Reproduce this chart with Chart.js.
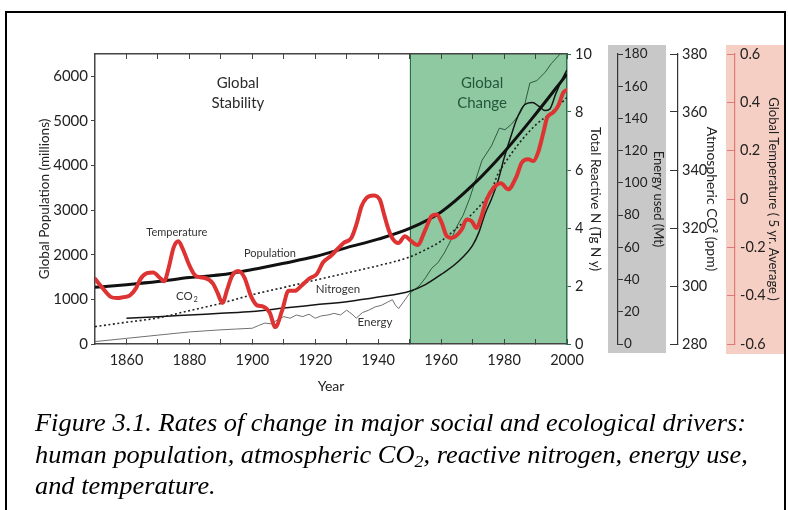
<!DOCTYPE html>
<html>
<head>
<meta charset="utf-8">
<script src="https://cdn.jsdelivr.net/npm/chart.js@4.4.1/dist/chart.umd.min.js"></script>
<style>
html,body{margin:0;padding:0;background:#fff;}
#wrap{position:relative;width:788px;height:510px;overflow:hidden;background:#fff;}
#frame{position:absolute;left:5px;top:11px;width:781px;height:560px;border:2.5px solid #000;box-sizing:border-box;}
.panel{position:absolute;}
#gray{left:608px;top:45px;width:58px;height:308px;background:#c8c8c8;}
#pink{left:726px;top:45px;width:58px;height:309px;background:#f6cfc4;}
canvas{position:absolute;left:0;top:0;}
#caption{position:absolute;left:35px;top:407px;font-family:"Liberation Serif","Times New Roman",serif;font-style:italic;font-size:25px;line-height:31.5px;white-space:nowrap;color:#000;transform:scaleX(1.055);transform-origin:0 0;}
#caption sub{font-size:0.68em;line-height:0;vertical-align:-0.22em;}
</style>
</head>
<body>
<div id="wrap">
  <div id="frame"></div>
  <div class="panel" id="gray"></div>
  <div class="panel" id="pink"></div>
  <canvas id="c" width="788" height="510"></canvas>
  <div id="caption">Figure 3.1. Rates of change in major social and ecological drivers:<br>human population, atmospheric CO<sub>2</sub>, reactive nitrogen, energy use,<br>and temperature.</div>
</div>
<script>
// ---------------- data ----------------
const popYears  = [1850,1860,1870,1880,1890,1900,1910,1920,1930,1940,1950,1960,1970,1980,1990,2000];
const popValues = [1270,1330,1400,1490,1550,1670,1810,1960,2160,2350,2590,2960,3560,4300,5150,6050];

const co2Years  = [1850,1860,1870,1880,1890,1900,1910,1920,1930,1940,1950,1955,1960,1965,1970,1974,1976,1978,1980,1985,1990,1995,2000];
const co2Values = [286,287.5,289,291.5,294,297,299.5,302,304.5,307,310,312.5,315.5,320,325,329.8,333,338.5,342,349.5,355.5,359.8,365];

const nYears  = [1860,1870,1880,1890,1900,1910,1920,1930,1940,1950,1955,1960,1965,1970,1972,1974,1976,1978,1980,1982,1984,1986.5,1989,1991,1993,1994.5,1996.5,1999,2000];
const nValues = [0.89,0.94,1.0,1.06,1.12,1.24,1.35,1.46,1.62,1.82,2.05,2.4,2.8,3.4,3.85,4.5,5.0,5.6,6.4,7.1,7.75,8.25,8.33,8.2,8.05,8.1,8.65,9.25,9.45];

const energyYears  = [1850,1860,1870,1880,1890,1895,1900,1902,1904,1906,1908,1910,1912,1914,1916,1918,1920,1922,1924,1926,1928,1930,1932,1933,1935,1937,1939,1941,1943,1944.5,1945.5,1946.5,1948,1950,1953,1955,1957,1959,1961,1963,1965,1967,1969,1971,1973,1976,1978.5,1980.3,1982.4,1985,1986.6,1988.2,1990.4,1993,1995,1997.8];
const energyValues = [1.5,3.5,5.5,7.5,8.8,9.3,9.8,11.5,13,12.5,15,17,16,18,17,18.5,16,17.5,18,19,18,21,18,16,19.5,21,23,24,26,27.5,24,22,26,31.5,36,41,47,50.5,56.5,64,73,80,90,102,114,123,134,133,136.5,143,149,162,163.5,168.5,174,180];

const tempYears  = [1850,1852.5,1855,1857,1859,1861,1863,1864.5,1866.5,1868.5,1870.5,1872,1873.5,1875,1876.5,1878,1880,1882,1885,1887.5,1889,1890.5,1892,1893.5,1895.5,1897.5,1899.5,1901.5,1903.5,1905.5,1907.3,1909.5,1911.5,1913.5,1915.5,1918,1920.5,1922.5,1925,1927,1929,1931.5,1933.2,1934.7,1936.3,1938.4,1940.5,1942,1943.3,1944.8,1946.4,1948.5,1950.3,1952.5,1955,1957,1958.6,1960.2,1961.8,1963.3,1966.5,1968.1,1969.7,1971.3,1972.5,1974.5,1976.6,1979,1981.3,1984,1985.6,1987.7,1989.3,1990.8,1992.5,1993.7,1995.6,1997.2,1998.8,2000];
const tempValues = [-0.33,-0.37,-0.405,-0.41,-0.406,-0.40,-0.37,-0.33,-0.307,-0.304,-0.325,-0.34,-0.28,-0.2,-0.175,-0.21,-0.275,-0.318,-0.327,-0.35,-0.39,-0.43,-0.375,-0.32,-0.298,-0.325,-0.40,-0.44,-0.445,-0.47,-0.53,-0.46,-0.38,-0.38,-0.36,-0.33,-0.31,-0.262,-0.235,-0.208,-0.182,-0.16,-0.10,-0.03,0.005,0.015,-0.002,-0.07,-0.127,-0.168,-0.182,-0.154,-0.172,-0.19,-0.127,-0.07,-0.064,-0.099,-0.154,-0.161,-0.127,-0.085,-0.092,-0.12,-0.085,-0.002,0.045,0.065,0.04,0.095,0.15,0.164,0.157,0.192,0.275,0.337,0.358,0.385,0.44,0.452];

// tick values
const yearTicks   = [1860,1870,1880,1890,1900,1910,1920,1930,1940,1950,1960,1970,1980,1990,2000];
const popTicks    = [0,1000,2000,3000,4000,5000,6000];
const nTicks      = [0,2,4,6,8,10];
const energyTicks = [0,20,40,60,80,100,120,140,160,180];
const co2Ticks    = [280,300,320,340,360,380];
const tempTicks   = [-0.6,-0.4,-0.2,0,0.2,0.4,0.6];

// periods
const stabilityPeriod = [1850,1950];
const changePeriod    = [1950,2000];

// in-plot labels, placed in (year, population) coordinates
const notes = [
  {text:'Global',      year:1895.4, value:5850, size:15, color:'#2b2b2b'},
  {text:'Stability',   year:1895.4, value:5400, size:15, color:'#2b2b2b'},
  {text:'Global',      year:1973,   value:5850, size:15, color:'#24563a'},
  {text:'Change',      year:1973,   value:5400, size:15, color:'#24563a'},
  {text:'Temperature', year:1876,   value:2490, size:11, color:'#333'},
  {text:'Population',  year:1905.6, value:2020, size:11, color:'#333'},
  {text:'Nitrogen',    year:1927.2, value:1235, size:11.5, color:'#333'},
  {text:'Energy',      year:1939,   value:495,  size:11.5, color:'#333'}
];
const co2Note = {year:1879, value:1076, size:11.5, color:'#333'};

// ---------------- helpers ----------------
const FONT = 'Lato';
const pts = (xs, ys) => xs.map((x, i) => ({x: x, y: ys[i]}));
const fixTicks = vals => scale => { scale.ticks = vals.map(v => ({value: v})); };
const fixWidth = w => scale => { scale.width = w; };
const plain = v => String(v);
const tickFont = {family: FONT, size: 14.5};
const titleFont = {family: FONT, size: 13.5};

const regionPlugin = {
  id: 'regions',
  beforeDraw(chart) {
    const {ctx, chartArea, scales} = chart;
    const x0 = scales.x.getPixelForValue(changePeriod[0]);
    const x1 = scales.x.getPixelForValue(changePeriod[1]);
    ctx.save();
    ctx.fillStyle = '#8fc9a1';
    ctx.fillRect(x0, chartArea.top, x1 - x0, chartArea.bottom - chartArea.top);
    ctx.strokeStyle = '#2e6b47';
    ctx.lineWidth = 1;
    ctx.beginPath();
    ctx.moveTo(Math.round(x0) + 0.5, chartArea.top);
    ctx.lineTo(Math.round(x0) + 0.5, chartArea.bottom);
    ctx.stroke();
    ctx.restore();
  }
};

const notePlugin = {
  id: 'notes',
  afterDatasetsDraw(chart) {
    const {ctx, scales} = chart;
    ctx.save();
    ctx.textAlign = 'center';
    ctx.textBaseline = 'middle';
    notes.forEach(n => {
      ctx.font = n.size + 'px ' + FONT;
      ctx.fillStyle = n.color;
      ctx.fillText(n.text, scales.x.getPixelForValue(n.year), scales.y.getPixelForValue(n.value));
    });
    const cx = scales.x.getPixelForValue(co2Note.year);
    const cy = scales.y.getPixelForValue(co2Note.value);
    ctx.font = co2Note.size + 'px ' + FONT;
    ctx.fillStyle = co2Note.color;
    const w = ctx.measureText('CO').width;
    ctx.textAlign = 'left';
    ctx.fillText('CO', cx - w / 2 - 2, cy);
    ctx.font = (co2Note.size * 0.65) + 'px ' + FONT;
    ctx.fillText('2', cx + w / 2 - 1, cy + 4);
    ctx.restore();
  }
};

new Chart(document.getElementById('c'), {
  type: 'line',
  data: {
    datasets: [
      {label: 'Temperature', data: pts(tempYears, tempValues), yAxisID: 'yT', borderColor: '#dd3333', borderWidth: 4, cubicInterpolationMode: 'monotone', pointRadius: 0, borderCapStyle: 'round', borderJoinStyle: 'round'},
      {label: 'Population', data: pts(popYears, popValues), yAxisID: 'y', borderColor: '#111', borderWidth: 3, cubicInterpolationMode: 'monotone', pointRadius: 0},
      {label: 'CO2', data: pts(co2Years, co2Values), yAxisID: 'yC', borderColor: '#222', borderWidth: 1.6, borderDash: [2, 2.5], cubicInterpolationMode: 'monotone', pointRadius: 0},
      {label: 'Nitrogen', data: pts(nYears, nValues), yAxisID: 'yN', borderColor: '#151515', borderWidth: 1.5, cubicInterpolationMode: 'monotone', pointRadius: 0},
      {label: 'Energy', data: pts(energyYears, energyValues), yAxisID: 'yE', borderColor: '#707070', borderWidth: 1, tension: 0, pointRadius: 0,
        segment: {borderColor: c => c.p0.parsed.x >= stabilityPeriod[1] ? '#2f5b3e' : '#707070'}}
    ]
  },
  options: {
    responsive: false,
    animation: false,
    devicePixelRatio: 1,
    layout: {padding: {left: 36, right: 0, top: 54, bottom: 106}},
    plugins: {legend: {display: false}, tooltip: {enabled: false}},
    scales: {
      x: {
        type: 'linear', position: 'bottom', min: 1850, max: 2000,
        afterBuildTicks: fixTicks(yearTicks), afterFit: s => { s.height = 60; },
        grid: {drawOnChartArea: false, tickLength: -5, color: '#444', lineWidth: 1},
        border: {color: '#444', width: 1.5},
        ticks: {padding: 13, maxRotation: 0, autoSkip: false, color: '#222', font: tickFont,
                callback: v => (v % 20 === 0 ? String(v) : '')},
        title: {display: true, text: 'Year', color: '#222', font: {family: FONT, size: 14}, padding: {top: 0, bottom: 9.6}}
      },
      x2: {
        type: 'linear', position: 'top', min: 1850, max: 2000,
        afterBuildTicks: fixTicks(yearTicks), afterFit: s => { s.height = 0; },
        grid: {drawOnChartArea: false, tickLength: -5, color: '#444', lineWidth: 1},
        border: {color: '#444', width: 1.5},
        ticks: {display: false}
      },
      y: {
        position: 'left', min: 0, max: 6500,
        afterBuildTicks: fixTicks(popTicks), afterFit: fixWidth(59),
        grid: {drawOnChartArea: false, tickLength: 4, color: '#444'},
        border: {color: '#444', width: 1.5},
        ticks: {padding: 3, color: '#222', font: {family: FONT, size: 15}, callback: plain},
        title: {display: true, text: 'Global Population (millions)', color: '#222', font: titleFont, padding: {top: 1, bottom: 0}}
      },
      yN: {
        position: 'right', weight: 1, min: 0, max: 10,
        afterBuildTicks: fixTicks(nTicks), afterFit: fixWidth(51),
        grid: {drawOnChartArea: false, tickLength: 4, color: '#2e6b47'},
        border: {color: '#2e6b47', width: 1.5},
        ticks: {padding: 4, color: '#222', font: tickFont, callback: plain},
        title: {display: true, text: 'Total Reactive N (Tg N y)', color: '#222', font: titleFont, padding: {top: 14.9, bottom: 0}}
      },
      yE: {
        position: 'right', weight: 2, min: 0, max: 180,
        afterBuildTicks: fixTicks(energyTicks), afterFit: fixWidth(60),
        grid: {drawOnChartArea: false, tickLength: 5, color: '#333'},
        border: {color: '#333', width: 1.2},
        ticks: {padding: 1, color: '#222', font: {family: FONT, size: 13.5}, callback: plain},
        title: {display: true, text: 'Energy used (Mt)', color: '#222', font: {family: FONT, size: 13}, padding: {top: 12.5, bottom: 0}}
      },
      yC: {
        position: 'right', weight: 3, min: 280, max: 380,
        afterBuildTicks: fixTicks(co2Ticks), afterFit: fixWidth(57),
        grid: {drawOnChartArea: false, tickLength: -8, color: '#333'},
        border: {color: '#333', width: 1.2},
        ticks: {padding: 12, color: '#222', font: tickFont, callback: plain},
        title: {display: true, text: 'Atmospheric CO\u00B2 (ppm)', color: '#222', font: {family: FONT, size: 14}, padding: {top: 14.9, bottom: 0}}
      },
      yT: {
        position: 'right', weight: 4, min: -0.6, max: 0.6,
        afterBuildTicks: fixTicks(tempTicks), afterFit: fixWidth(53),
        grid: {drawOnChartArea: false, tickLength: -8, color: '#e07a7a'},
        border: {color: '#e07a7a', width: 1.2},
        ticks: {padding: 13, color: '#222', font: tickFont,
                callback: v => (Math.abs(v) < 1e-9 ? '0' : String(Math.round(v * 10) / 10))},
        title: {display: true, text: 'Global Temperature ( 5 yr. Average )', color: '#222', font: {family: FONT, size: 13}, padding: {top: 7, bottom: 0}}
      }
    }
  },
  plugins: [regionPlugin, notePlugin]
});
</script>
</body>
</html>
